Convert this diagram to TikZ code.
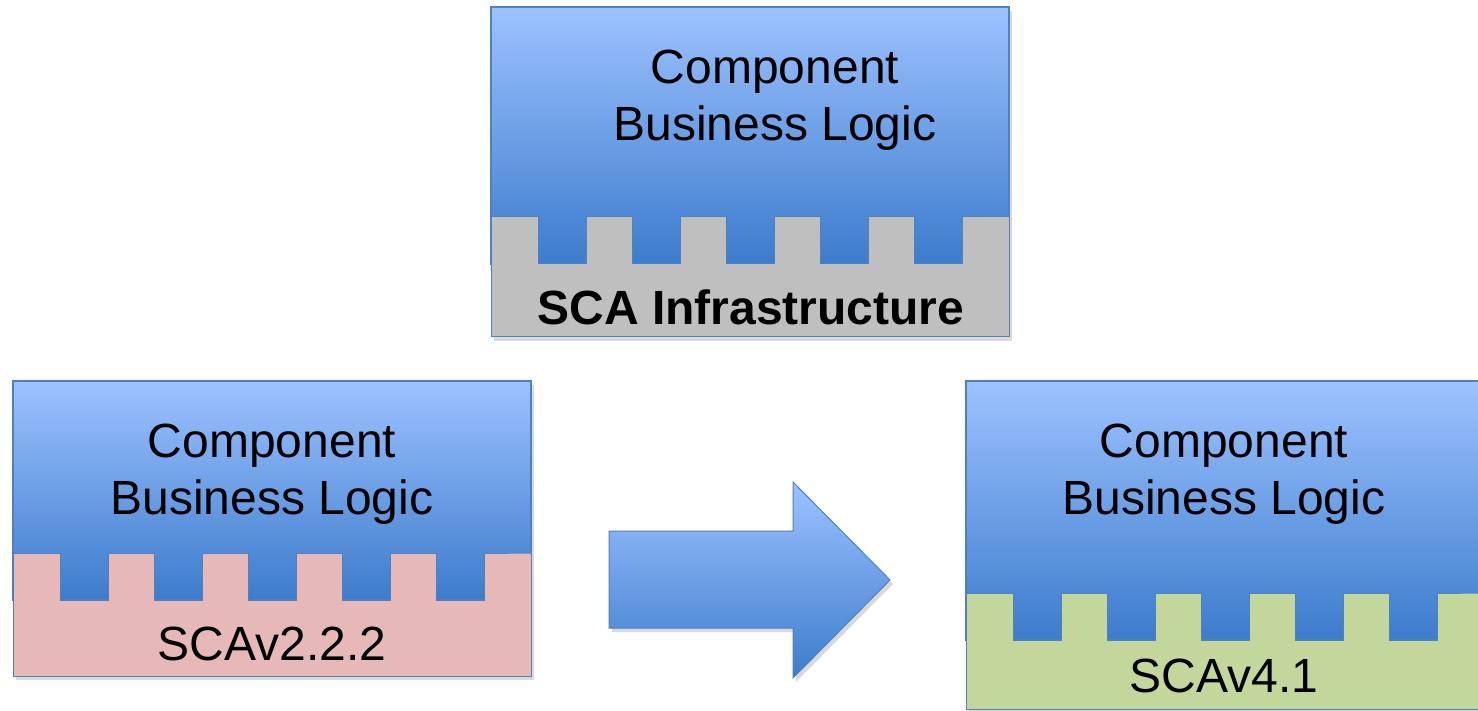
\documentclass[tikz,border=0pt]{standalone}
\usepackage{fontspec}
\setmainfont{Liberation Sans}
\usetikzlibrary{positioning}

\definecolor{bodytop}{RGB}{157,194,255}
\definecolor{bodymid}{RGB}{128,168,234}
\definecolor{bodybot}{RGB}{60,124,204}
\definecolor{edgeblue}{RGB}{79,129,189}
\definecolor{infragray}{RGB}{191,191,191}
\definecolor{oldpink}{RGB}{230,185,184}
\definecolor{newgreen}{RGB}{195,214,155}

\tikzset{
  bluebody/.style={draw=edgeblue, line width=1.3pt, top color=bodytop, middle color=bodymid, bottom color=bodybot},
  band/.style={draw=edgeblue, line width=1pt, line join=miter},
  blocktext/.style={anchor=base, align=center, inner sep=0pt, font=\fontsize{48}{57}\selectfont},
}

% #1 left, #2 top, #3 top of band, #4 bottom, #5 band colour
\newcommand{\scablock}[5]{%
  \fill[black, opacity=0.15] (#1+3,#2+4) rectangle (#1+521,#4+4);
  \draw[bluebody] (#1,#2) rectangle (#1+518,#3+47);
  \draw[band, fill=#5] (#1,#3) -- ++(47,0)
    \foreach \k in {1,...,5} { -- ++(0,47) -- ++(48,0) -- ++(0,-47) -- ++(46,0) }
    -- (#1+518,#3) -- (#1+518,#4) -- (#1,#4) -- cycle;
}

\begin{document}
\begin{tikzpicture}[x=1pt, y=-1pt]
  \clip (0,0) rectangle (1478,711);
  \fill[white] (0,0) rectangle (1478,711);

  % blocks
  \scablock{491}{7}{217}{337}{infragray}
  \scablock{13}{381}{553}{676}{oldpink}
  \scablock{966}{381}{593}{709}{newgreen}

  % texts (base = last line)
  \node[blocktext] (toplogic) at (775,141) {Component\\Business Logic};
  \node[blocktext, font=\bfseries\fontsize{48}{57}\selectfont] (infra) at (751,325) {SCA Infrastructure};
  \node[blocktext] (oldlogic) at (272,514) {Component\\Business Logic};
  \node[blocktext] (oldsca) at (272,660) {SCAv2.2.2};
  \node[blocktext] (newlogic) at (1224,514) {Component\\Business Logic};
  \node[blocktext] (newsca) at (1224,692) {SCAv4.1};

  % migration arrow
  \fill[black, opacity=0.15] (612,535) -- (796,535) -- (796,486) -- (893,584)
    -- (796,682) -- (796,632) -- (612,632) -- cycle;
  \draw[bluebody, line width=1pt] (609,531) -- (793,531) -- (793,482) -- (890,580)
    -- (793,678) -- (793,628) -- (609,628) -- cycle;
\end{tikzpicture}
\end{document}
